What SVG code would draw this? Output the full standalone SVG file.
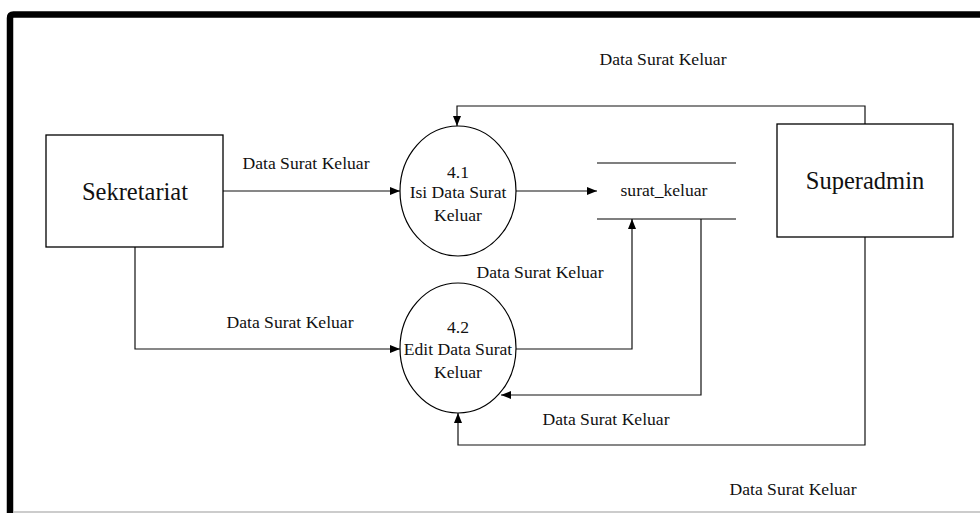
<svg xmlns="http://www.w3.org/2000/svg" width="980" height="513" viewBox="0 0 980 513">
  <style>
    .frame { fill: none; stroke: #000; stroke-width: 6.5; stroke-linejoin: round; }
    .entity { fill: #fff; stroke: #000; stroke-width: 1.3; }
    .process { fill: #fff; stroke: #000; stroke-width: 1.2; }
    .store { stroke: #000; stroke-width: 1.2; }
    .flow { fill: none; stroke: #111; stroke-width: 1.2; marker-end: url(#arrow); }
    .big { font-size: 24.5px; }
    .mid { font-size: 17.6px; }
  </style>
  <defs>
    <marker id="arrow" viewBox="0 0 10 8" refX="10" refY="4" markerWidth="10" markerHeight="8" markerUnits="userSpaceOnUse" orient="auto">
      <path d="M0,0 L10,4 L0,8 z" fill="#000"/>
    </marker>
  </defs>

  <rect width="980" height="513" fill="#fff"/>

  <!-- page frame -->
  <path class="frame" d="M10,513 V18 Q10,14.5 13.5,14.5 H984"/>
  <line x1="13" y1="512" x2="980" y2="512" stroke="#bbb" stroke-width="1.5"/>

  <g font-family="'Liberation Serif', 'DejaVu Serif', serif" fill="#111" text-anchor="middle">
    <!-- data flows -->
    <g id="connectors">
      <path class="flow" d="M223,191 H400"/>
      <path class="flow" d="M135,247 V349 H400"/>
      <path class="flow" d="M516,191 H597"/>
      <path class="flow" d="M865,124 V106 H457 V126"/>
      <path class="flow" d="M516,349 H632 V219"/>
      <path class="flow" d="M701,219 V395 H501"/>
      <path class="flow" d="M865,237 V445 H458 V413"/>

      <text class="mid" x="663" y="65">Data Surat Keluar</text>
      <text class="mid" x="306" y="169">Data Surat Keluar</text>
      <text class="mid" x="540" y="278">Data Surat Keluar</text>
      <text class="mid" x="290" y="328">Data Surat Keluar</text>
      <text class="mid" x="606" y="425">Data Surat Keluar</text>
      <text class="mid" x="793" y="495">Data Surat Keluar</text>
    </g>

    <g id="sekretariat">
      <rect class="entity" x="46" y="135" width="177" height="112"/>
      <text class="big" x="135" y="200">Sekretariat</text>
    </g>

    <g id="superadmin">
      <rect class="entity" x="777" y="124" width="176" height="113"/>
      <text class="big" x="865" y="189">Superadmin</text>
    </g>

    <g id="process-4-1">
      <ellipse class="process" cx="458" cy="191" rx="58" ry="65"/>
      <text class="mid" x="458" y="178">4.1</text>
      <text class="mid" x="458" y="198">Isi Data Surat</text>
      <text class="mid" x="458" y="221">Keluar</text>
    </g>

    <g id="process-4-2">
      <ellipse class="process" cx="458" cy="348" rx="58" ry="65"/>
      <text class="mid" x="458" y="333">4.2</text>
      <text class="mid" x="458" y="355">Edit Data Surat</text>
      <text class="mid" x="458" y="378">Keluar</text>
    </g>

    <g id="surat-keluar">
      <line class="store" x1="597" y1="163" x2="736" y2="163"/>
      <line class="store" x1="597" y1="219" x2="736" y2="219"/>
      <text class="mid" x="664" y="196">surat_keluar</text>
    </g>
  </g>
</svg>
